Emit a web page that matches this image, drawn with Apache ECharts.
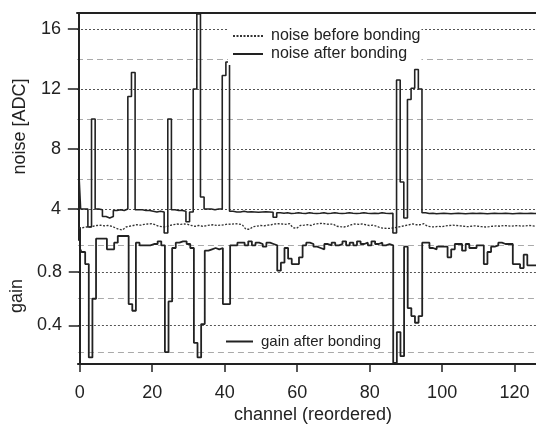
<!DOCTYPE html>
<html>
<head>
<meta charset="utf-8">
<script src="https://cdn.jsdelivr.net/npm/echarts@6/dist/echarts.min.js"></script>
<style>
  html, body { margin: 0; padding: 0; background: #fff; }
  #main { width: 536px; height: 425px; }
</style>
</head>
<body>
<div id="main"></div>
<script>
var myChart = echarts.init(document.getElementById('main'));

// channel ticks on the x axis
var channelTicks = [0, 20, 40, 60, 80, 100, 120];
var noiseLabels = [4, 8, 12, 16];
var noiseMinor = [6, 10, 14];
var gainLabels = [0.4, 0.8];
var gainMinor = [0.2, 0.6, 1.0];

// noise before bonding (ADC), channel 0..126
var noiseBefore = [
    2.72, 2.75, 2.8, 2.8, 2.85, 2.9, 2.92, 2.88, 2.9, 2.85,
    2.75, 2.65, 2.6, 2.8, 2.85, 2.9, 2.95, 2.92, 2.97, 3.0,
    3.02, 2.95, 2.85, 2.82, 2.8, 2.9, 2.95, 3.0, 2.97, 3.0,
    2.98, 2.9, 2.85, 2.9, 2.85, 2.88, 2.92, 2.95, 2.9, 2.92,
    2.95, 3.0, 2.98, 3.02, 3.0, 2.95, 2.65, 2.65, 2.82, 2.85,
    2.9, 2.88, 2.92, 2.95, 3.0, 3.02, 3.0, 2.98, 3.02, 2.75,
    2.72, 2.9, 2.92, 2.95, 2.9, 3.0, 3.02, 3.05, 3.0, 2.98,
    3.0, 2.85, 2.82, 2.8, 2.85, 2.95, 3.0, 2.98, 3.0, 2.95,
    2.9, 2.92, 2.85, 2.75, 2.72, 2.7, 2.72, 2.75, 2.8, 2.85,
    2.9, 2.95, 3.0, 2.95, 2.95, 3.02, 2.85, 2.82, 2.8, 2.85,
    2.82, 2.88, 2.9, 2.92, 2.9, 2.88, 2.85, 2.82, 2.85, 2.88,
    2.85, 2.82, 2.8, 2.82, 2.85, 2.88, 2.85, 2.9, 2.88, 2.85,
    2.88, 2.9, 2.85, 2.88, 2.9, 2.88, 2.85
];

// noise after bonding (ADC)
var noiseAfter = [
    6.5, 4.0, 4.0, 2.8, 10.0, 4.0, 3.95, 3.5, 3.4, 3.5,
    3.9, 3.95, 3.9, 4.0, 11.5, 13.1, 3.95, 3.95, 3.9, 3.9,
    3.85, 3.8, 3.85, 3.8, 2.4, 10.0, 3.95, 3.9, 3.9, 3.85,
    3.15, 3.8, 12.0, 17.0, 4.8, 4.0, 4.0, 3.95, 4.0, 4.0,
    12.9, 13.8, 3.85, 3.8, 3.8, 3.85, 3.8, 3.82, 3.8, 3.78,
    3.8, 3.82, 3.8, 3.78, 3.45, 3.75, 3.72, 3.75, 3.7, 3.72,
    3.75, 3.72, 3.7, 3.75, 3.72, 3.7, 3.72, 3.75, 3.7, 3.72,
    3.75, 3.72, 3.7, 3.72, 3.75, 3.72, 3.7, 3.72, 3.75, 3.72,
    3.7, 3.72, 3.7, 3.75, 3.72, 3.7, 3.72, 2.4, 12.6, 5.8,
    3.4, 11.3, 12.05, 13.3, 12.0, 3.75, 3.7, 3.72, 3.68, 3.7,
    3.72, 3.7, 3.68, 3.7, 3.72, 3.7, 3.68, 3.7, 3.72, 3.7,
    3.72, 3.7, 3.68, 3.7, 3.72, 3.7, 3.7, 3.72, 3.7, 3.68,
    3.7, 3.72, 3.7, 3.7, 3.72, 3.7, 3.7
];

// gain after bonding
var gainAfter = [
    0.98, 0.95, 0.86, 0.16, 0.6, 1.05, 1.05, 1.05, 0.97, 0.97,
    1.02, 1.07, 1.07, 1.07, 0.56, 0.51, 1.02, 1.0, 1.0, 1.0,
    1.01, 1.01, 1.03, 1.0, 0.2, 0.58, 0.98, 1.02, 1.03, 1.03,
    1.01, 0.98, 0.27, 0.16, 0.41, 0.96, 0.97, 0.98, 0.97, 0.98,
    0.56, 0.56, 1.0, 1.0, 1.02, 1.02, 1.0, 1.03, 1.0, 1.02,
    1.01, 0.99, 1.02, 1.01, 1.0, 0.81, 0.87, 0.98, 0.9, 0.86,
    0.86, 0.91, 1.0, 1.02, 1.01, 0.99, 0.98, 0.97, 1.01, 1.0,
    1.02, 1.0, 1.01, 1.03, 1.0, 1.02, 1.0, 1.03, 1.01, 1.02,
    1.0, 1.03, 1.01, 1.02, 1.0, 1.01, 1.0, 0.12, 0.35, 0.17,
    0.99, 0.53, 0.47, 0.42, 0.47, 1.02, 1.02, 0.98, 0.97, 0.99,
    0.99, 0.99, 0.91, 0.97, 1.01, 1.01, 0.96, 1.01, 0.98, 0.98,
    1.0, 1.0, 0.86, 0.95, 0.99, 1.0, 1.02, 1.01, 1.01, 1.01,
    0.86, 0.86, 0.83, 0.93, 0.85, 0.85, 0.85
];

var toPairs = function (arr) {
    var res = [];
    for (var i = 0; i < arr.length; i++) {
        res.push([i, arr[i]]);
    }
    return res;
};

var ink = '#222';
var font = 'Liberation Sans';
var darkGrid = {lineStyle: {color: '#555', type: [2, 2], width: 1}};
var lightGrid = {lineStyle: {color: '#aaa', type: [6, 4], width: 1}};

option = {
    animation: false,
    backgroundColor: '#fff',
    textStyle: {fontFamily: font, color: ink},
    grid: [
        {left: 77, right: 0, top: 13, bottom: 185},   // noise
        {left: 77, right: 0, top: 228, bottom: 61}    // gain
    ],
    legend: [
        {
            data: ['noise before bonding', 'noise after bonding'],
            orient: 'vertical',
            left: 228, top: 25,
            padding: [3, 1, 3, 4],
            itemWidth: 30, itemHeight: 14, itemGap: 2,
            itemStyle: {opacity: 0},
            backgroundColor: '#fff',
            textStyle: {fontSize: 16, color: ink, fontFamily: font, lineHeight: 16, padding: [0, 0, 0, 3]}
        },
        {
            data: ['gain after bonding'],
            left: 222, top: 333,
            padding: [1, 2, 1, 3],
            itemWidth: 27, itemHeight: 14,
            itemStyle: {opacity: 0},
            textStyle: {fontSize: 15, color: ink, fontFamily: font, padding: [0, 0, 0, 3]}
        }
    ],
    xAxis: [
        {
            gridIndex: 0, type: 'value', position: 'top',
            min: -0.5, max: 125.9,
            axisLine: {show: true, lineStyle: {color: ink, width: 2}},
            axisTick: {show: false},
            axisLabel: {show: false},
            splitLine: {show: false}
        },
        {
            gridIndex: 1, type: 'value', position: 'bottom',
            min: -0.5, max: 125.9,
            name: 'channel (reordered)',
            nameLocation: 'middle', nameGap: 42,
            nameTextStyle: {fontSize: 18, color: ink, padding: [0, 0, 0, 12]},
            axisLine: {show: true, onZero: false, lineStyle: {color: ink, width: 2}},
            axisTick: {show: true, customValues: channelTicks, length: 8, lineStyle: {color: ink, width: 1.5}},
            axisLabel: {customValues: channelTicks, fontSize: 18, color: ink, margin: 20},
            splitLine: {show: false}
        }
    ],
    yAxis: [
        {
            gridIndex: 0, type: 'value', min: 1.933, max: 17.067,
            name: 'noise [ADC]', nameLocation: 'middle', nameGap: 48,
            nameTextStyle: {fontSize: 18, color: ink},
            axisLine: {show: true, lineStyle: {color: ink, width: 2}},
            axisTick: {customValues: noiseLabels, length: 11, lineStyle: {color: ink, width: 1.5}},
            axisLabel: {customValues: noiseLabels, fontSize: 18, color: ink, margin: 16},
            splitLine: darkGrid
        },
        {
            gridIndex: 0, type: 'value', min: 1.933, max: 17.067,
            axisLine: {show: false},
            axisTick: {customValues: noiseMinor, length: 6, lineStyle: {color: ink, width: 1.5}},
            axisLabel: {show: false},
            splitLine: lightGrid
        },
        {
            gridIndex: 1, type: 'value', min: 0.111, max: 1.13,
            name: 'gain', nameLocation: 'middle', nameGap: 48,
            nameTextStyle: {fontSize: 18, color: ink},
            axisLine: {show: true, lineStyle: {color: ink, width: 2}},
            axisTick: {customValues: gainLabels, length: 11, lineStyle: {color: ink, width: 1.5}},
            axisLabel: {customValues: gainLabels, fontSize: 18, color: ink, margin: 16},
            splitLine: darkGrid
        },
        {
            gridIndex: 1, type: 'value', min: 0.111, max: 1.13,
            axisLine: {show: false},
            axisTick: {customValues: gainMinor, length: 6, lineStyle: {color: ink, width: 1.5}},
            axisLabel: {show: false},
            splitLine: lightGrid
        }
    ],
    series: [
        {
            name: 'noise before bonding',
            type: 'line', xAxisIndex: 0, yAxisIndex: 0,
            symbol: 'none',
            lineStyle: {color: '#333', width: 1.3, type: [2, 1.5]},
            itemStyle: {color: '#333'},
            data: toPairs(noiseBefore)
        },
        {
            name: 'noise after bonding',
            type: 'line', xAxisIndex: 0, yAxisIndex: 0,
            step: 'middle', symbol: 'none',
            lineStyle: {color: ink, width: 1.6},
            itemStyle: {color: ink},
            data: toPairs(noiseAfter)
        },
        {
            name: 'gain after bonding',
            type: 'line', xAxisIndex: 1, yAxisIndex: 2,
            step: 'middle', symbol: 'none',
            lineStyle: {color: ink, width: 1.8},
            itemStyle: {color: ink},
            data: toPairs(gainAfter)
        }
    ]
};

myChart.setOption(option);
</script>
</body>
</html>
